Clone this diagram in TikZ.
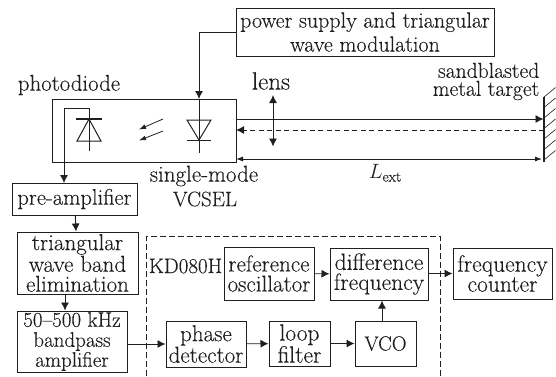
\documentclass[tikz,border=0pt]{standalone}
\usepackage{fontspec}
\setmainfont{Latin Modern Roman}[FakeBold=0.2]
\usetikzlibrary{arrows.meta}
\definecolor{ink}{gray}{0.12}
\tikzset{
  lbl/.style={inner sep=0pt,text=ink,font=\fontsize{21}{19.5}\selectfont,align=center},
  box/.style={draw=ink,line width=1pt,inner sep=0pt,align=center,text=ink},
  wire/.style={draw=ink,line width=.9pt},
  arr/.style={wire,-{Latex[length=8pt,width=8pt]}},
  thin arr/.style={wire,-{Latex[length=7pt,width=5pt]}},
  dbl/.style={wire,{Latex[length=7pt,width=5pt]}-{Latex[length=7pt,width=5pt]}},
  hatch/.style={draw=ink,line width=.6pt},
}
\newcommand{\bx}[7][21]{\node[box,font=\fontsize{#1}{20}\selectfont,minimum width=#4pt-#2pt,minimum height=#5pt-#3pt,anchor=center] (#6) at ({(#2+#4)/2},{(#3+#5)/2}) {#7};}
\begin{document}
\begin{tikzpicture}[x=1pt,y=-1pt]
\useasboundingbox (0,0) rectangle (556,376);
% dashed KD080H frame (runs off the bottom)
\draw[draw=ink,line width=.9pt,dash pattern=on 6pt off 3pt] (146.5,376) -- (146.5,236) -- (440,236) -- (440,376);
% boxes
\bx[22]{236}{8}{494}{56}{power}{power supply and triangular\\[4pt]wave modulation}
\bx{52}{99}{236}{162}{laser}{}
\bx[22.5]{12}{183}{137}{215}{pre}{pre-amplifier}
\bx[23]{17}{232}{138}{294}{tri}{triangular\\wave band\\elimination}
\bx[21]{17}{311}{127}{372}{band}{50--500 kHz\\bandpass\\amplifier}
\bx[23]{224}{247}{314}{300}{ref}{reference\\oscillator}
\bx[23.5]{330}{248}{428}{300}{diff}{difference\\frequency}
\bx[23.5]{453}{248}{552}{299}{count}{frequency\\counter}
\bx[23]{166}{321}{246}{367}{phase}{phase\\detector}
\bx[23.5]{269}{321}{330}{366}{loop}{loop\\filter}
\bx[20.5]{355}{321}{416}{366}{vco}{VCO}
% labels
\node[lbl,font=\fontsize{22.8}{20}\selectfont] (lphoto) at (69,85) {photodiode};
\node[lbl,font=\fontsize{25}{25}\selectfont] (llens) at (271,81) {lens};
\node[lbl,align=right,anchor=east,font=\fontsize{21.6}{18}\selectfont] (ltarget) at (539.5,81.5) {sandblasted\\metal target};
\node[lbl,font=\fontsize{23}{20}\selectfont] (lsingle) at (204,176) {single-mode};
\node[lbl] (lvcsel) at (205,199) {VCSEL};
\node[lbl] (lkd) at (185.5,266) {KD080H};
\node[lbl] (lext) at (385,173) {\fontsize{20.74}{21}\selectfont$L$\raisebox{-3pt}{\fontsize{15}{15}\selectfont ext}};
% named points
\coordinate (pw1) at (199,32);
\coordinate (vtop) at (199,99);
\coordinate (vbot) at (199,153);
\coordinate (w1) at (89,108);
\coordinate (w2) at (64,108);
\coordinate (w3) at (64,183);
\coordinate (pbot) at (89,151);
\coordinate (tgtTop) at (544,97);
\coordinate (tgtBot) at (544,162);
% supply wire and laser diode
\draw[arr] (power.west |- pw1) -- (pw1) -- (vtop);
\draw[wire] (vtop) -- (vbot);
\draw[wire,line width=1pt] (187,120) -- (211,120) -- (199,140) -- cycle;
\draw[wire,line width=1.1pt] (187,140.5) -- (211,140.5);
% photodiode
\draw[wire,line width=1.1pt] (76,119) -- (102,119);
\draw[wire,line width=1pt] (89,119) -- (101,141) -- (77,141) -- cycle;
\draw[wire] (pbot) -- (w1) -- (w2);
\draw[arr] (w2) -- (w3);
% light arrows
\coordinate (a1s) at (163,119); \coordinate (a1e) at (139,129.5);
\coordinate (a2s) at (163,131); \coordinate (a2e) at (139,140.5);
\draw[thin arr,line width=.8pt] (a1s) -- (a1e);
\draw[thin arr,line width=.8pt] (a2s) -- (a2e);
% beams
\coordinate (b1s) at (236,119); \coordinate (b1e) at (543.5,119);
\coordinate (b2s) at (544,130); \coordinate (b2e) at (236,130);
\coordinate (l1) at (236,159); \coordinate (l2) at (542,159);
\draw[arr] (b1s) -- (b1e);
\draw[wire,dash pattern=on 5pt off 3.5pt,-{Latex[length=8pt,width=8pt]}] (b2s) -- (b2e);
\draw[dbl] (l1) -- (l2);
% lens
\coordinate (ln1) at (273,95); \coordinate (ln2) at (273,146.5);
\draw[wire,{Latex[length=8pt,width=8pt]}-{Latex[length=8pt,width=8pt]}] (ln1) -- (ln2);
% target
\draw[wire,line width=1.2pt] (tgtTop) -- (tgtBot);
\foreach \yy in {97,107.5,118,128.5,139,149.5,160}
  \draw[hatch] (544,\yy) -- (555.5,\yy-9.5);
% signal chain
\draw[arr] (pre) -- (tri);
\draw[arr] (tri.south -| 65,0) -- (band.north -| 65,0);
\draw[arr] (band.east |- phase) -- (phase);
\draw[arr] (phase) -- (loop);
\draw[arr] (loop) -- (vco);
\draw[arr] (vco.north -| 382,0) -- (diff.south -| 382,0);
\draw[arr] (ref) -- (diff);
\draw[arr] (diff.east |- count) -- (count);
\end{tikzpicture}
\end{document}
